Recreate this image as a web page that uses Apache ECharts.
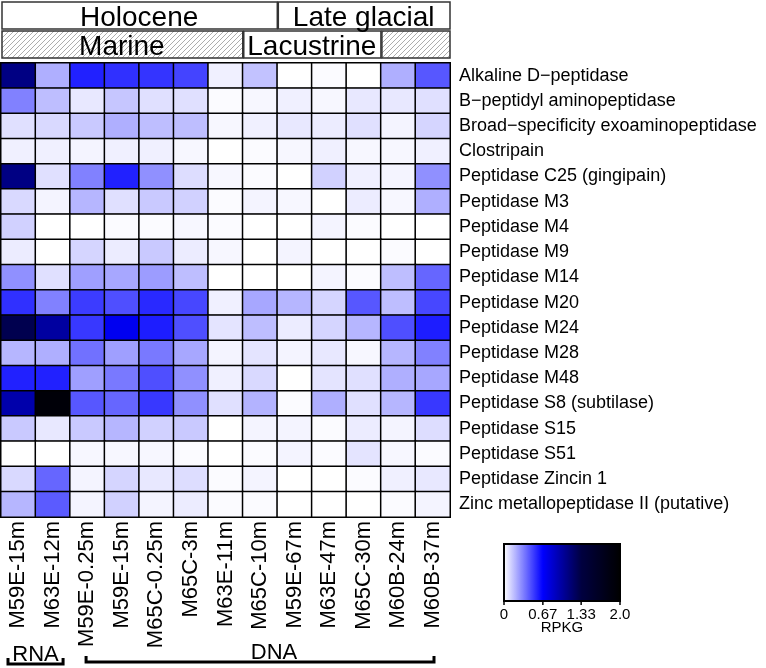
<!DOCTYPE html>
<html lang="en">
<head>
<meta charset="UTF-8">
<title>Peptidases heatmap</title>
<script src="https://cdn.jsdelivr.net/npm/echarts@6/dist/echarts.min.js"></script>
</head>
<body style="margin:0;background:#fff">
<div id="container" style="width:766px;height:668px"></div>
<script type="text/javascript">
var samples = ['M59E-15m', 'M63E-12m', 'M59E-0.25m', 'M59E-15m', 'M65C-0.25m', 'M65C-3m',
    'M63E-11m', 'M65C-10m', 'M59E-67m', 'M63E-47m', 'M65C-30m', 'M60B-24m', 'M60B-37m'];

var families = ['Alkaline D−peptidase', 'B−peptidyl aminopeptidase', 'Broad−specificity exoaminopeptidase',
    'Clostripain', 'Peptidase C25 (gingipain)', 'Peptidase M3', 'Peptidase M4', 'Peptidase M9',
    'Peptidase M14', 'Peptidase M20', 'Peptidase M24', 'Peptidase M28', 'Peptidase M48',
    'Peptidase S8 (subtilase)', 'Peptidase S15', 'Peptidase S51', 'Peptidase Zincin 1',
    'Zinc metallopeptidase II (putative)'];

// RPKG, one row per family, columns in sample order
var rpkg = [
    [1.10, 0.21, 0.58, 0.54, 0.53, 0.49, 0.04, 0.16, 0.00, 0.01, 0.00, 0.21, 0.44],
    [0.33, 0.17, 0.06, 0.15, 0.08, 0.08, 0.01, 0.02, 0.04, 0.02, 0.06, 0.06, 0.08],
    [0.08, 0.10, 0.14, 0.21, 0.17, 0.17, 0.02, 0.04, 0.06, 0.05, 0.08, 0.03, 0.11],
    [0.04, 0.04, 0.03, 0.04, 0.04, 0.02, 0.00, 0.01, 0.02, 0.04, 0.02, 0.02, 0.04],
    [1.10, 0.08, 0.33, 0.58, 0.29, 0.09, 0.02, 0.01, 0.00, 0.12, 0.04, 0.03, 0.29],
    [0.10, 0.03, 0.19, 0.08, 0.14, 0.12, 0.01, 0.03, 0.02, 0.00, 0.05, 0.02, 0.21],
    [0.12, 0.00, 0.00, 0.01, 0.01, 0.02, 0.01, 0.00, 0.00, 0.03, 0.01, 0.00, 0.00],
    [0.05, 0.00, 0.11, 0.05, 0.14, 0.05, 0.02, 0.00, 0.03, 0.00, 0.00, 0.01, 0.00],
    [0.29, 0.08, 0.25, 0.23, 0.26, 0.17, 0.00, 0.00, 0.00, 0.03, 0.01, 0.17, 0.40],
    [0.54, 0.33, 0.51, 0.46, 0.56, 0.48, 0.04, 0.23, 0.19, 0.11, 0.44, 0.17, 0.48],
    [1.28, 1.00, 0.52, 0.72, 0.59, 0.46, 0.07, 0.17, 0.05, 0.11, 0.19, 0.46, 0.59],
    [0.19, 0.21, 0.37, 0.25, 0.35, 0.23, 0.03, 0.07, 0.03, 0.06, 0.02, 0.19, 0.33],
    [0.58, 0.58, 0.25, 0.35, 0.46, 0.29, 0.04, 0.10, 0.00, 0.07, 0.08, 0.21, 0.23],
    [0.96, 1.92, 0.44, 0.40, 0.52, 0.29, 0.08, 0.20, 0.01, 0.21, 0.08, 0.19, 0.52],
    [0.14, 0.06, 0.14, 0.19, 0.12, 0.14, 0.00, 0.03, 0.03, 0.01, 0.05, 0.03, 0.09],
    [0.00, 0.00, 0.02, 0.02, 0.02, 0.01, 0.00, 0.01, 0.03, 0.01, 0.07, 0.02, 0.01],
    [0.10, 0.40, 0.03, 0.11, 0.06, 0.09, 0.01, 0.03, 0.00, 0.00, 0.01, 0.04, 0.06],
    [0.19, 0.43, 0.03, 0.12, 0.03, 0.05, 0.01, 0.01, 0.00, 0.00, 0.00, 0.01, 0.03]
];

// header bands: [label, first column, last column, hatched]
var periods = [['Holocene', 0, 7, false], ['Late glacial', 8, 12, false]];
var settings = [['Marine', 0, 6, true], ['Lacustrine', 7, 10, false], ['', 11, 12, true]];
// nucleic acid brackets: [label, first column, last column]
var acids = [['RNA', 0, 1], ['DNA', 2, 12]];

var colorTicks = [0, 0.67, 1.33, 2.0];
var colorTickLabels = ['0', '0.67', '1.33', '2.0'];

var FONT = '"Liberation Sans", Arial, Helvetica, sans-serif';

var data = [];
for (var r = 0; r < rpkg.length; r++) {
    for (var c = 0; c < rpkg[r].length; c++) {
        data.push([c, r, rpkg[r][c]]);
    }
}

// diagonal hatch for the header bands
var hatch = document.createElement('canvas');
hatch.width = 5;
hatch.height = 5;
var hc = hatch.getContext('2d');
hc.fillStyle = '#fff';
hc.fillRect(0, 0, 5, 5);
hc.strokeStyle = '#8a8a8a';
hc.lineWidth = 0.7;
hc.beginPath();
hc.moveTo(0, 5); hc.lineTo(5, 0);
hc.moveTo(-1, 1); hc.lineTo(1, -1);
hc.moveTo(4, 6); hc.lineTo(6, 4);
hc.stroke();

var dom = document.getElementById('container');
var myChart = echarts.init(dom);

var option = {
    animation: false,
    backgroundColor: '#fff',
    grid: {
        left: 1, right: 316, top: 63, bottom: 151,
        show: true, borderColor: '#000', borderWidth: 1.5
    },
    xAxis: {
        type: 'category',
        data: samples,
        position: 'bottom',
        axisLine: { show: false },
        axisTick: { show: false },
        splitArea: { show: false },
        axisLabel: {
            interval: 0, rotate: 90, margin: 4,
            fontSize: 22, color: '#000', fontFamily: FONT
        }
    },
    yAxis: {
        type: 'category',
        data: families,
        inverse: true,
        position: 'right',
        axisLine: { show: false },
        axisTick: { show: false },
        axisLabel: {
            interval: 0, margin: 9,
            fontSize: 18, color: '#000', fontFamily: FONT
        }
    },
    visualMap: {
        type: 'continuous',
        min: 0, max: 2,
        orient: 'horizontal',
        left: 504, top: 544,
        itemWidth: 57, itemHeight: 116,
        calculable: false,
        text: null,
        padding: 0,
        inRange: { color: ['#ffffff', '#0000ff', '#000040', '#000000'] }
    },
    series: [{
        type: 'heatmap',
        data: data,
        itemStyle: { borderColor: '#000', borderWidth: 1.5 },
        emphasis: { disabled: true }
    }]
};
myChart.setOption(option);

// annotations placed from the grid geometry
var x0 = myChart.convertToPixel({ xAxisIndex: 0 }, 0);
var x1 = myChart.convertToPixel({ xAxisIndex: 0 }, 1);
var cw = x1 - x0;
function colLeft(i) { return x0 - cw / 2 + i * cw; }

var g = [];
function band(list, top, h, textY) {
    list.forEach(function (b) {
        var l = colLeft(b[1]), w = (b[2] - b[1] + 1) * cw;
        g.push({
            type: 'rect', z: 10,
            shape: { x: l + 1, y: top, width: w - 1, height: h },
            style: { fill: b[3] ? { image: hatch, repeat: 'repeat' } : '#fff', stroke: '#333', lineWidth: 1.5 }
        });
        if (b[0]) {
            g.push({
                type: 'text', z: 11,
                style: {
                    text: b[0], x: l + w / 2, y: textY,
                    font: '28px ' + FONT, fill: '#000',
                    textAlign: 'center', textVerticalAlign: 'middle'
                }
            });
        }
    });
}
band(periods, 2, 27, 18);
band(settings, 31, 27, 47);

acids.forEach(function (a) {
    var l = colLeft(a[1]), rgt = colLeft(a[2] + 1);
    var rna = a[0] === 'RNA';
    var pad = rna ? 7 : 16;
    var by = rna ? 664 : 662;
    g.push({
        type: 'polyline', z: 10,
        shape: { points: [[l + pad, by - 6], [l + pad, by], [rgt - pad, by], [rgt - pad, by - 6]] },
        style: { stroke: '#000', lineWidth: 3, fill: null }
    });
    g.push({
        type: 'text', z: 11,
        style: {
            text: a[0], x: (l + rgt) / 2 + (rna ? 0 : 14), y: rna ? 655 : 653,
            font: '22px ' + FONT, fill: '#000',
            textAlign: 'center', textVerticalAlign: 'middle'
        }
    });
});

// colour key frame, ticks and labels
var kx = 504, ky = 544, kw = 116, kh = 57;
g.push({
    type: 'rect', z: 10,
    shape: { x: kx, y: ky, width: kw, height: kh },
    style: { fill: null, stroke: '#000', lineWidth: 2 }
});
colorTicks.forEach(function (v, i) {
    var tx = kx + v / 2 * kw;
    g.push({
        type: 'line', z: 10,
        shape: { x1: tx, y1: ky + kh, x2: tx, y2: ky + kh + 4 },
        style: { stroke: '#000', lineWidth: 1.5 }
    });
    g.push({
        type: 'text', z: 11,
        style: {
            text: colorTickLabels[i], x: tx, y: ky + kh + 14,
            font: '15px ' + FONT, fill: '#000',
            textAlign: 'center', textVerticalAlign: 'middle'
        }
    });
});
g.push({
    type: 'text', z: 11,
    style: {
        text: 'RPKG', x: kx + kw / 2, y: ky + kh + 27,
        font: '15px ' + FONT, fill: '#000',
        textAlign: 'center', textVerticalAlign: 'middle'
    }
});

myChart.setOption({ graphic: g });
</script>
</body>
</html>
